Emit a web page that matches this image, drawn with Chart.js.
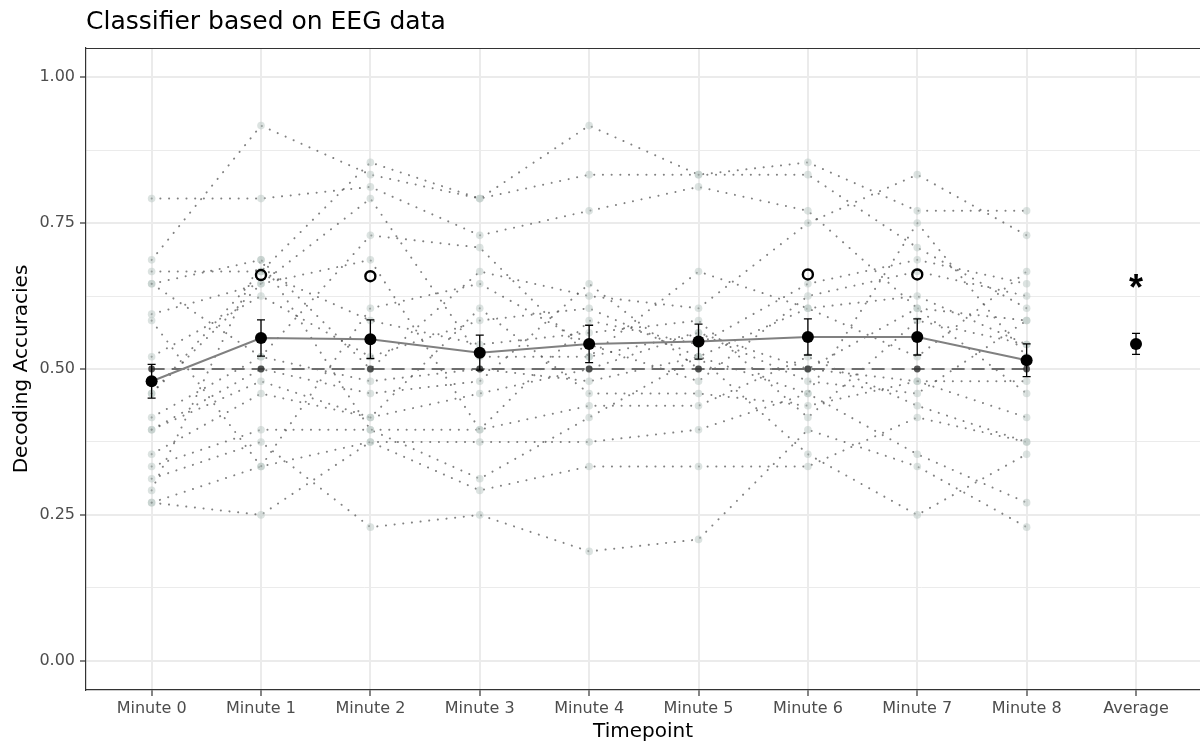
<!DOCTYPE html>
<html>
<head>
<meta charset="utf-8">
<script src="https://cdn.jsdelivr.net/npm/chart.js@4/dist/chart.umd.min.js"></script>
<style>
html,body{margin:0;padding:0;background:#ffffff;overflow:hidden;}
#wrap{width:1200px;height:744px;position:relative;}
canvas{display:block;}
</style>
</head>
<body>
<div id="wrap"><canvas id="c"></canvas></div>
<script>
// ---------------- data ----------------
const categories = ['Minute 0','Minute 1','Minute 2','Minute 3','Minute 4','Minute 5','Minute 6','Minute 7','Minute 8','Average'];

// individual subjects, values at Minute 0 .. Minute 8
const subjectAccuracies = [
  [0.792, 0.792, 0.812, 0.729, 0.771, 0.812, 0.771, 0.604, 0.458],
  [0.687, 0.917, 0.833, 0.792, 0.833, 0.833, 0.833, 0.708, 0.604],
  [0.667, 0.667, 0.854, 0.792, 0.917, 0.833, 0.854, 0.771, 0.771],
  [0.646, 0.687, 0.500, 0.667, 0.625, 0.604, 0.750, 0.833, 0.729],
  [0.646, 0.521, 0.729, 0.708, 0.521, 0.667, 0.604, 0.521, 0.667],
  [0.594, 0.646, 0.687, 0.396, 0.583, 0.542, 0.646, 0.687, 0.646],
  [0.583, 0.333, 0.604, 0.646, 0.542, 0.479, 0.625, 0.667, 0.625],
  [0.521, 0.625, 0.521, 0.583, 0.604, 0.521, 0.604, 0.625, 0.542],
  [0.458, 0.667, 0.583, 0.542, 0.562, 0.583, 0.417, 0.583, 0.542],
  [0.458, 0.646, 0.792, 0.521, 0.521, 0.562, 0.500, 0.604, 0.583],
  [0.417, 0.521, 0.479, 0.500, 0.479, 0.521, 0.458, 0.750, 0.521],
  [0.396, 0.500, 0.458, 0.479, 0.646, 0.500, 0.500, 0.479, 0.479],
  [0.396, 0.479, 0.417, 0.458, 0.500, 0.562, 0.479, 0.458, 0.583],
  [0.354, 0.458, 0.417, 0.604, 0.458, 0.458, 0.437, 0.479, 0.417],
  [0.333, 0.396, 0.396, 0.396, 0.437, 0.437, 0.521, 0.437, 0.375],
  [0.312, 0.375, 0.229, 0.250, 0.1875, 0.208, 0.396, 0.333, 0.229],
  [0.292, 0.687, 0.396, 0.312, 0.417, 0.521, 0.354, 0.250, 0.354],
  [0.271, 0.333, 0.375, 0.375, 0.375, 0.396, 0.458, 0.354, 0.271],
  [0.271, 0.250, 0.375, 0.292, 0.333, 0.333, 0.333, 0.417, 0.375]
];

const meanAccuracy = [0.479, 0.553, 0.551, 0.528, 0.543, 0.547, 0.555, 0.555, 0.515, 0.543];
const meanSE       = [0.029, 0.031, 0.033, 0.030, 0.032, 0.030, 0.031, 0.031, 0.028, 0.018];
const chanceLevel  = [0.5, 0.5, 0.5, 0.5, 0.5, 0.5, 0.5, 0.5, 0.5];

const sigCircleIndex = [1, 2, 6, 7];
const sigCircleY     = [0.661, 0.659, 0.662, 0.662];
const sigStarIndex   = [9];
const sigStarY       = [0.645];

const yMajorTicks = [0, 0.25, 0.5, 0.75, 1];
const yTickLabels = ['0.00', '0.25', '0.50', '0.75', '1.00'];
const yMinorTicks = [0.125, 0.375, 0.625, 0.875];

// ---------------- chart ----------------
const FONT = "'DejaVu Sans', 'Liberation Sans', Arial, sans-serif";
const nMinutes = chanceLevel.length;

const datasets = [];
subjectAccuracies.forEach((vals, s) => {
  datasets.push({
    label: 'Subject ' + (s + 1),
    data: vals.map((v, i) => ({x: i, y: v})),
    showLine: true,
    borderColor: 'rgba(80,80,80,0.72)',
    borderWidth: 2,
    borderDash: [0.1, 8.6],
    borderCapStyle: 'round',
    pointRadius: 3.8,
    pointBorderWidth: 0,
    pointBackgroundColor: 'rgba(185,200,195,0.5)',
    order: 10
  });
});
datasets.push({
  label: 'Chance',
  data: chanceLevel.map((v, i) => ({x: i, y: v})),
  showLine: true,
  borderColor: '#6e6e6e',
  borderWidth: 2,
  borderDash: [13, 7],
  pointRadius: 3.4,
  pointBorderWidth: 0,
  pointBackgroundColor: 'rgba(45,45,45,0.8)',
  order: 6
});
datasets.push({
  label: 'Mean line',
  data: meanAccuracy.slice(0, nMinutes).map((v, i) => ({x: i, y: v})),
  showLine: true,
  borderColor: '#808080',
  borderWidth: 2,
  pointRadius: 0,
  order: 4
});
datasets.push({
  label: 'Mean',
  data: meanAccuracy.map((v, i) => ({x: i, y: v})),
  showLine: false,
  pointRadius: 6,
  pointBorderWidth: 0,
  pointBackgroundColor: '#000000',
  order: 2
});
datasets.push({
  label: 'Significant',
  data: sigCircleIndex.map((c, k) => ({x: c, y: sigCircleY[k]})),
  showLine: false,
  pointRadius: 5,
  pointBorderWidth: 2.4,
  pointBorderColor: '#000000',
  pointBackgroundColor: 'rgba(255,255,255,0)',
  order: 1
});

const extras = {
  id: 'extras',
  afterDatasetDraw(chart, args) {
    if (chart.data.datasets[args.index].label !== 'Mean line') return;
    const ctx = chart.ctx, xs = chart.scales.x, ys = chart.scales.y;
    ctx.save();
    ctx.strokeStyle = '#000000';
    ctx.lineWidth = 1.3;
    meanAccuracy.forEach((m, i) => {
      const x = xs.getPixelForValue(i);
      const yt = ys.getPixelForValue(m + meanSE[i]);
      const yb = ys.getPixelForValue(m - meanSE[i]);
      ctx.beginPath();
      ctx.moveTo(x, yt); ctx.lineTo(x, yb);
      ctx.moveTo(x - 4, yt); ctx.lineTo(x + 4, yt);
      ctx.moveTo(x - 4, yb); ctx.lineTo(x + 4, yb);
      ctx.stroke();
    });
    ctx.restore();
  },
  afterDatasetsDraw(chart) {
    const ctx = chart.ctx, xs = chart.scales.x, ys = chart.scales.y;
    ctx.save();
    ctx.fillStyle = '#000000';
    ctx.font = "bold 36px 'Liberation Sans', Arial, sans-serif";
    ctx.textAlign = 'center';
    ctx.textBaseline = 'alphabetic';
    sigStarIndex.forEach((c, k) => {
      ctx.fillText('*', xs.getPixelForValue(c), ys.getPixelForValue(sigStarY[k]) + 16);
    });
    ctx.restore();
  },
  afterDraw(chart) {
    const ctx = chart.ctx, a = chart.chartArea;
    ctx.save();
    ctx.strokeStyle = '#333333';
    ctx.lineWidth = 1.2;
    ctx.beginPath();
    ctx.moveTo(a.left, a.top + 0.5);
    ctx.lineTo(a.right, a.top + 0.5);
    ctx.stroke();
    ctx.restore();
  }
};

new Chart(document.getElementById('c'), {
  type: 'scatter',
  data: {datasets},
  plugins: [extras],
  options: {
    responsive: true,
    maintainAspectRatio: false,
    animation: false,
    devicePixelRatio: 1,
    layout: {padding: 0, autoPadding: false},
    plugins: {
      legend: {display: false},
      tooltip: {enabled: false},
      title: {
        display: true,
        text: 'Classifier based on EEG data',
        align: 'start',
        fullSize: false,
        color: '#000000',
        font: {family: FONT, size: 25, weight: 'normal', lineHeight: 1.2},
        padding: {top: 7, bottom: 11}
      }
    },
    scales: {
      x: {
        type: 'linear',
        min: -0.6,
        max: 9.585,
        afterFit(scale) { scale.height = 54; scale.paddingLeft = 0; scale.paddingRight = 0; },
        afterBuildTicks(scale) { scale.ticks = categories.map((c, i) => ({value: i})); },
        ticks: {
          autoSkip: false, maxRotation: 0, minRotation: 0,
          color: '#4d4d4d', padding: 3,
          font: {family: FONT, size: 16},
          callback: (v) => categories[v]
        },
        grid: {color: '#ebebeb', lineWidth: 2, tickLength: 6, tickColor: '#333333', tickWidth: 1.2},
        border: {display: true, color: '#333333', width: 1.2},
        title: {
          display: true, text: 'Timepoint', color: '#000000',
          font: {family: FONT, size: 20, lineHeight: 1.2},
          padding: {top: 0, bottom: 0}
        }
      },
      y: {
        type: 'linear',
        min: -0.05,
        max: 1.05,
        afterFit(scale) { scale.width = 86; },
        afterBuildTicks(scale) {
          scale.ticks = yMajorTicks.concat(yMinorTicks).sort((a, b) => a - b).map(v => ({value: v}));
        },
        ticks: {
          color: '#4d4d4d', padding: 5,
          font: {family: FONT, size: 16},
          callback: (v) => { const k = yMajorTicks.indexOf(v); return k >= 0 ? yTickLabels[k] : ''; }
        },
        grid: {
          color: '#ebebeb',
          lineWidth: (ctx) => (ctx.tick && yMajorTicks.indexOf(ctx.tick.value) >= 0) ? 2 : 1,
          tickLength: 6,
          tickColor: (ctx) => (ctx.tick && yMajorTicks.indexOf(ctx.tick.value) >= 0) ? '#333333' : 'rgba(0,0,0,0)',
          tickWidth: 1.2
        },
        border: {display: true, color: '#333333', width: 1.2},
        title: {
          display: true, text: 'Decoding Accuracies', color: '#000000',
          font: {family: FONT, size: 20, lineHeight: 1.2},
          padding: {top: 10, bottom: 0}
        }
      }
    }
  }
});
</script>
</body>
</html>
